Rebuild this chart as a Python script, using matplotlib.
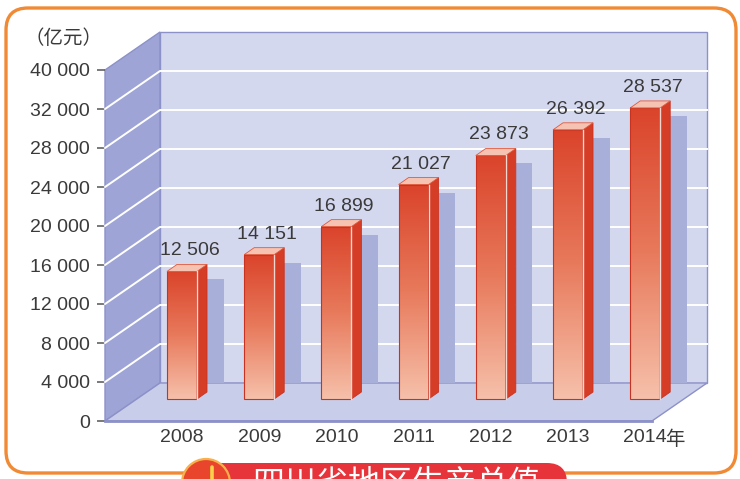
import matplotlib
matplotlib.use("Agg")
import numpy as np
import matplotlib.pyplot as plt
from matplotlib.colors import LinearSegmentedColormap
from matplotlib.patches import Circle, FancyBboxPatch, Polygon, Rectangle


YEARS = ["2008", "2009", "2010", "2011", "2012", "2013", "2014"]
GDP = [12506, 14151, 16899, 21027, 23873, 26392, 28537]
VALUE_LABELS = ["12 506", "14 151", "16 899", "21 027", "23 873", "26 392", "28 537"]
Y_TICK_LABELS = ["0", "4 000", "8 000", "12 000", "16 000", "20 000",
                 "24 000", "28 000", "32 000", "40 000"]
Y_TICK_STEP = 4000
UNIT_LABEL = "（亿元）"
YEAR_SUFFIX = "年"
BANNER_TITLE = "四川省地区生产总值"

# layout, in pixels of the 740x479 picture (y grows downwards)
FIG_W, FIG_H = 740, 479
PLOT_LEFT, PLOT_RIGHT = 105, 652
PLOT_BOTTOM, PLOT_TOP = 421, 70
FIRST_BAR_X, BAR_STEP = 182, 77.2
DEPTH_X_PX, DEPTH_Y_PX = 55, 38
BAR_BASE_PX = 399
BAR_PX_PER_UNIT = 0.0102

TEXT_COLOR = "#3a3a3a"
LEFT_WALL = "#9ea5d6"
BACK_WALL = "#d4d8ef"
FLOOR = "#c8cdea"
EDGE = "#8c91c8"
SHADOW = "#a8afd8"

plt.rcParams["font.family"] = ["Liberation Sans", "Noto Sans CJK SC"]


def px_to_fig(x, y):
    return x / FIG_W, (FIG_H - y) / FIG_H


def draw_box(ax, x0, x1, top, dx, dy, tick_values):
    walls = [
        ([(x0, 0), (x0, top), (x0 + dx, top + dy), (x0 + dx, dy)], LEFT_WALL),
        ([(x0 + dx, dy), (x0 + dx, top + dy), (x1 + dx, top + dy), (x1 + dx, dy)], BACK_WALL),
        ([(x0, 0), (x1, 0), (x1 + dx, dy), (x0 + dx, dy)], FLOOR),
    ]
    for points, color in walls:
        ax.add_patch(Polygon(points, closed=True, facecolor=color, edgecolor=EDGE,
                             linewidth=1.0, clip_on=False, zorder=1))
    for value in tick_values[1:-1]:
        ax.plot([x0, x0 + dx, x1 + dx], [value, value + dy, value + dy],
                color="white", linewidth=1.4, clip_on=False, zorder=2)
    ax.plot([x0, x1], [0, 0], color=EDGE, linewidth=2.0, clip_on=False, zorder=2)


def draw_bar(ax, center, value, half, side, depth, cmap):
    left, right = center - half, center + half
    gradient = np.linspace(0, 1, 128).reshape(-1, 1)
    ax.imshow(gradient, cmap=cmap, extent=[left, right, 0, value], origin="upper",
              aspect="auto", interpolation="bilinear", zorder=3, clip_on=False)
    ax.add_patch(Rectangle((left, 0), right - left, value, facecolor="none",
                           edgecolor="#c8321f", linewidth=0.8, zorder=4, clip_on=False))
    ax.add_patch(Polygon([(right, 0), (right, value), (right + side, value + depth),
                          (right + side, depth)], closed=True, facecolor="#d63d26",
                         edgecolor="#c8321f", linewidth=0.6, zorder=4, clip_on=False))
    ax.add_patch(Polygon([(left, value), (right, value), (right + side, value + depth),
                          (left + side, value + depth)], closed=True, facecolor="#f6c3b3",
                         edgecolor="#e0593c", linewidth=0.6, zorder=4, clip_on=False))
    ax.plot([right, right], [0, value], color="white", linewidth=1.0, alpha=0.8,
            zorder=5, clip_on=False)


fig = plt.figure(figsize=(FIG_W / 100, FIG_H / 100), dpi=100, facecolor="white")

# frame and banner, drawn in pixel coordinates
frame_ax = fig.add_axes([0, 0, 1, 1], zorder=0)
frame_ax.set_xlim(0, FIG_W)
frame_ax.set_ylim(FIG_H, 0)
frame_ax.axis("off")
frame_ax.add_patch(FancyBboxPatch((6, 8), 730, 465, boxstyle="round,pad=0,rounding_size=22",
                                  facecolor="white", edgecolor="#f08a35", linewidth=2.4))
frame_ax.add_patch(FancyBboxPatch((190, 463), 377, 40, boxstyle="round,pad=0,rounding_size=20",
                                  facecolor="#e6343a", edgecolor="none"))
frame_ax.add_patch(Circle((206, 483), 24, facecolor="#e8452c", edgecolor="#f6b14c", linewidth=1.6))
frame_ax.plot([212, 212], [467, 480], color="#f7d24a", linewidth=2.6, solid_capstyle="round")
frame_ax.text(252, 484, BANNER_TITLE, fontsize=23, color="white", ha="left", va="center",
              family=["Noto Sans CJK SC"])
frame_ax.text(64, 38, UNIT_LABEL, fontsize=14, color=TEXT_COLOR, ha="center", va="center",
              family=["Noto Sans CJK SC"])

# main axes: the 3D box and the value axis
left, bottom = px_to_fig(PLOT_LEFT, PLOT_BOTTOM)
position = [left, bottom, (PLOT_RIGHT - PLOT_LEFT) / FIG_W, (PLOT_BOTTOM - PLOT_TOP) / FIG_H]
ax = fig.add_axes(position, zorder=1)
ax.set_facecolor("none")

x0 = (PLOT_LEFT - FIRST_BAR_X) / BAR_STEP
x1 = (PLOT_RIGHT - FIRST_BAR_X) / BAR_STEP
tick_values = [i * Y_TICK_STEP for i in range(len(Y_TICK_LABELS))]
top = tick_values[-1]
box_px_per_unit = (PLOT_BOTTOM - PLOT_TOP) / top
dx = DEPTH_X_PX / BAR_STEP
dy = DEPTH_Y_PX / box_px_per_unit
draw_box(ax, x0, x1, top, dx, dy, tick_values)

ax.set_xlim(x0, x1)
ax.set_ylim(0, top)
ax.set_yticks(tick_values, Y_TICK_LABELS)
ax.set_xticks(range(len(YEARS)), YEARS)
ax.tick_params(axis="y", length=6, width=1.1, color="#555555", pad=5,
               labelsize=14, labelcolor=TEXT_COLOR)
ax.tick_params(axis="x", length=0, pad=6, labelsize=14, labelcolor=TEXT_COLOR)
for spine in ax.spines.values():
    spine.set_visible(False)
ax.annotate(YEAR_SUFFIX, xy=(len(YEARS) - 1, 0), xytext=(14.5, -5.5),
            textcoords="offset points", ha="left", va="top", fontsize=14,
            color=TEXT_COLOR, family=["Noto Sans CJK SC"], annotation_clip=False)

# bar axes: same frame, scale of the drawn bars
axb = fig.add_axes(position, zorder=2)
axb.set_facecolor("none")
axb.axis("off")
bar_low = -(PLOT_BOTTOM - BAR_BASE_PX) / BAR_PX_PER_UNIT
bar_high = (BAR_BASE_PX - PLOT_TOP) / BAR_PX_PER_UNIT

half = 15 / BAR_STEP
side = 10 / BAR_STEP
depth = 7 / BAR_PX_PER_UNIT
shadow_w = 16.5 / BAR_STEP
shadow_floor = (BAR_BASE_PX - (PLOT_BOTTOM - DEPTH_Y_PX)) / BAR_PX_PER_UNIT
shadow_drop = 8 / BAR_PX_PER_UNIT
bar_cmap = LinearSegmentedColormap.from_list("bar", ["#da442b", "#e87a5c", "#f6c0aa"])

for i, value in enumerate(GDP):
    shadow_left = i + half + side
    axb.add_patch(Rectangle((shadow_left, shadow_floor), shadow_w,
                            value - shadow_drop - shadow_floor,
                            facecolor=SHADOW, edgecolor="none", zorder=1, clip_on=False))
    draw_bar(axb, i, value, half, side, depth, bar_cmap)
    axb.annotate(VALUE_LABELS[i], xy=(i + 0.1, value + depth), xytext=(0, 3.6),
                 textcoords="offset points", ha="center", va="bottom",
                 fontsize=14, color=TEXT_COLOR, annotation_clip=False)

axb.set_xlim(x0, x1)
axb.set_ylim(bar_low, bar_high)

fig.savefig("out.png", dpi=100, facecolor="white")
